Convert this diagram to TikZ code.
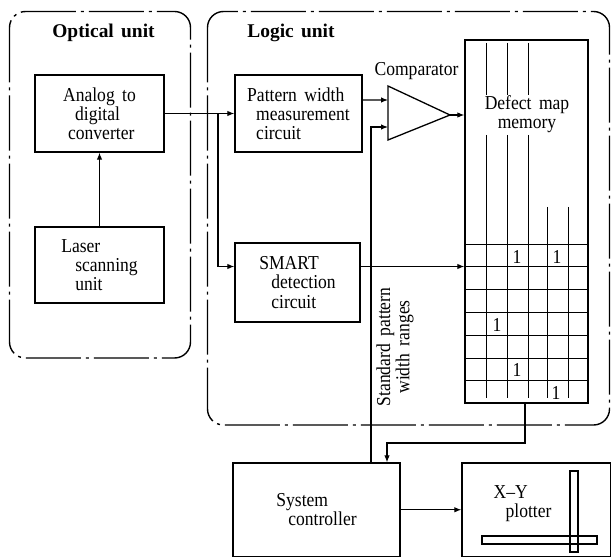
\documentclass[tikz,border=0pt]{standalone}
\usepackage{fontspec}
\setmainfont[FakeStretch=0.89,WordSpace=1.7]{Liberation Serif}
\newfontfamily\titlefont[WordSpace=1.5]{Liberation Serif}
\usetikzlibrary{arrows.meta,calc}
\newcommand\diaglbl{\fontsize{19.8}{19.2}\selectfont}
\newcommand\diagttl{\titlefont\fontsize{19.5}{20}\selectfont\bfseries}

\begin{document}
\begin{tikzpicture}[x=1bp,y=-1bp,
  box/.style={draw,line width=1.3bp,inner sep=0pt,align=left,font=\diaglbl},
  lbl/.style={inner sep=0pt,font=\diaglbl},
  ttl/.style={inner sep=0pt,font=\diagttl},
  unitframe/.style={line width=1.4bp,rounded corners=16bp,
    dash pattern=on 55bp off 5bp on 3bp off 5bp},
  conn/.style={line width=1.1bp},
  arr/.style={conn,-{Latex[length=7bp,width=5.5bp]}},
  grid/.style={line width=1bp}
]
\useasboundingbox (0,0) rectangle (612,558);

% unit frames
\draw[unitframe] (9.5,11.5) rectangle (190.5,358);
\draw[unitframe] (207.5,11.5) rectangle (609.5,425);
\node[ttl] (optttl) at (103.5,33) {Optical unit};
\node[ttl] (logttl) at (291,33) {Logic unit};

% optical unit blocks
\node[box,minimum width=129bp,minimum height=77bp] (adc) at (99.5,113.5)
  {Analog to\\\hspace*{12bp}digital\\\hspace*{5bp}converter};
\node[box,minimum width=129bp,minimum height=76bp] (laser) at (99.5,265)
  {Laser\\\hspace*{14bp}scanning\\\hspace*{14bp}unit};

% logic unit blocks
\node[box,minimum width=127bp,minimum height=77bp] (pw) at (298.5,113.5)
  {Pattern width\\\hspace*{9bp}measurement\\\hspace*{9bp}circuit};
\node[box,minimum width=125bp,minimum height=79bp] (smart) at (297.5,282.5)
  {SMART\\\hspace*{12bp}detection\\\hspace*{12bp}circuit};

% comparator
\draw[line width=1.3bp] (388,86) -- (450,115) -- (388,140) -- cycle;
\coordinate (cin1) at (388,100);
\coordinate (cin2) at (388,127);
\coordinate (cout) at (450,115);
\node[lbl] (cmplbl) at (416.5,71) {Comparator};

% defect map memory
\node[draw,line width=1.3bp,minimum width=123bp,minimum height=363bp,inner sep=0pt]
  (mem) at (526.5,221.5) {};
\node[lbl,align=center] (memlbl) at (527,114) {Defect map\\memory};
\foreach \gx in {486,507,528}{
  \draw[grid] (\gx,43) -- (\gx,95);
  \draw[grid] (\gx,135) -- (\gx,398);
}
\foreach \gx in {547,568}{
  \draw[grid] (\gx,207) -- (\gx,398);
}
\foreach \gy in {244,266.8,289.6,312.4,335.2,358,380.8}{
  \draw[grid] (465,\gy) -- (588,\gy);
}
\node[lbl] (b1) at (517,257) {1};
\node[lbl] (b2) at (557,257) {1};
\node[lbl] (b3) at (497,325) {1};
\node[lbl] (b4) at (517,370) {1};
\node[lbl] (b5) at (556,393) {1};

% system controller and plotter
\node[box,minimum width=167bp,minimum height=93.5bp] (sc) at (316.5,509.75)
  {System\\\hspace*{12bp}controller};
\node[draw,line width=1.3bp,minimum width=148.5bp,minimum height=93.5bp,inner sep=0pt]
  (xy) at (536.25,509.75) {};
\node[lbl,align=left] (xylbl) at (522.5,504) {X–Y\\\hspace*{12bp}plotter};
\draw[line width=1.1bp] (570,471) rectangle (578,552);
\draw[line width=1.1bp] (482,536) rectangle (597,544);

% signal paths
\coordinate (br) at (218,113.5);
\coordinate (stdtop) at (371,127);
\coordinate (mo) at (387,443);
\draw[arr] (laser) -- (adc);
\draw[arr] (adc) -- (pw);
\draw[arr] (br) |- ([yshift=16bp]smart.west);
\draw[arr] ([yshift=13.5bp]pw.east) -- (cin1);
\draw[arr] (cout) -- (cout -| mem.west);
\draw[arr] ([yshift=16bp]smart.east) -- ([yshift=16bp]smart.east -| mem.west);
\draw[arr] (stdtop |- sc.north) -- (stdtop) -- (cin2);
\draw[arr] ([xshift=-1.5bp]mem.south) |- (mo) -- (mo |- sc.north);
\draw[arr] (sc) -- (xy);

\node[lbl,rotate=90,align=center] (stdlbl) at (395,347)
  {Standard pattern\\width ranges};
\end{tikzpicture}
\end{document}
